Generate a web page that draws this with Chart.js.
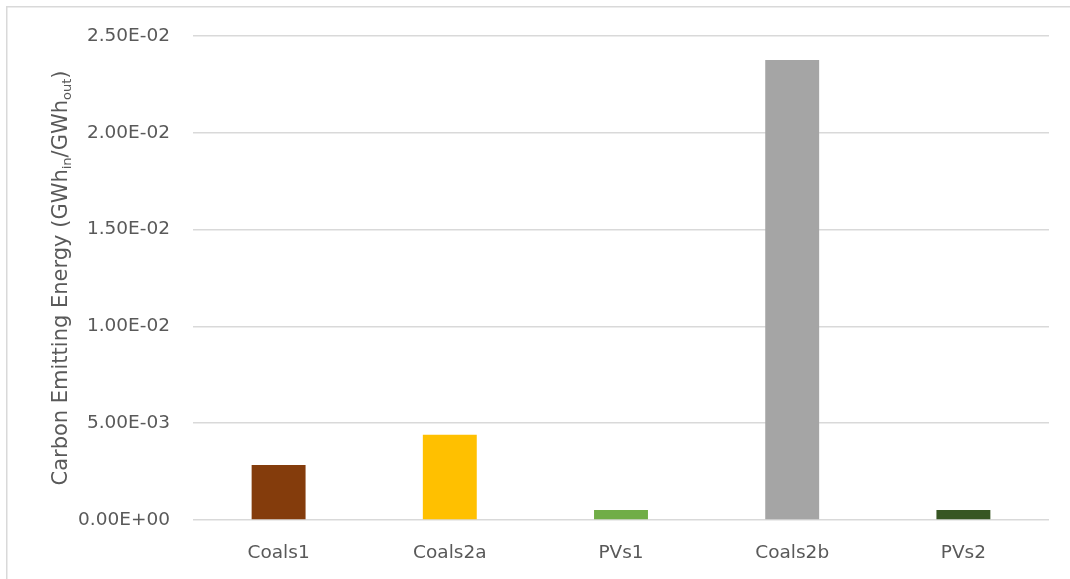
<!DOCTYPE html>
<html>
<head>
<meta charset="utf-8">
<title>Carbon Emitting Energy</title>
<script src="https://cdn.jsdelivr.net/npm/chart.js@4/dist/chart.umd.min.js"></script>
<style>
    html, body { margin: 0; padding: 0; background: #fff; }
    #wrap { position: relative; width: 1070px; height: 579px; }
</style>
</head>
<body>
<div id="wrap"><canvas id="myChart" width="1070" height="579"></canvas></div>
<script>
    const categories = ["Coals1", "Coals2a", "PVs1", "Coals2b", "PVs2"];
    const values = [0.00284, 0.00440, 0.00052, 0.02376, 0.00052];
    const barColors = ["#843C0C", "#FFC000", "#70AD47", "#A5A5A5", "#375623"];
    const yTicks = [0, 0.005, 0.01, 0.015, 0.02, 0.025];

    const textColor = "#595959";
    const gridColor = "#d9d9d9";
    const fontFamily = "'DejaVu Sans', sans-serif";
    const fontSize = 18.5;
    const titleSize = 21;

    // 2.50E-02 style labels like a spreadsheet
    function sci(v) {
        if (v === 0) return "0.00E+00";
        let exp = Math.floor(Math.log10(Math.abs(v)) + 1e-9);
        let mant = v / Math.pow(10, exp);
        let sign = exp < 0 ? "-" : "+";
        let e = String(Math.abs(exp)).padStart(2, "0");
        return mant.toFixed(2) + "E" + sign + e;
    }

    // outer frame of the chart box (right and bottom edges fall outside)
    const framePlugin = {
        id: "frame",
        beforeDraw(chart) {
            let ctx = chart.ctx;
            ctx.save();
            ctx.strokeStyle = gridColor;
            ctx.lineWidth = 1.5;
            ctx.beginPath();
            ctx.moveTo(6.75, 579);
            ctx.lineTo(6.75, 6.75);
            ctx.lineTo(1070, 6.75);
            ctx.stroke();
            ctx.restore();
        }
    };

    // rotated axis title with subscripts
    const yTitlePlugin = {
        id: "yTitle",
        afterDraw(chart) {
            let ctx = chart.ctx;
            let area = chart.chartArea;
            let parts = [
                { t: "Carbon Emitting Energy (GWh", sub: false },
                { t: "in", sub: true },
                { t: "/GWh", sub: false },
                { t: "out", sub: true },
                { t: ")", sub: false }
            ];
            let big = titleSize + "px " + fontFamily;
            let small = (titleSize * 0.62) + "px " + fontFamily;
            ctx.save();
            let total = 0;
            parts.forEach(p => {
                ctx.font = p.sub ? small : big;
                p.w = ctx.measureText(p.t).width;
                total += p.w;
            });
            ctx.translate(67, (area.top + area.bottom) / 2);
            ctx.rotate(-Math.PI / 2);
            ctx.fillStyle = textColor;
            ctx.textBaseline = "alphabetic";
            ctx.textAlign = "left";
            let x = -total / 2;
            parts.forEach(p => {
                ctx.font = p.sub ? small : big;
                ctx.fillText(p.t, x, p.sub ? 4 : 0);
                x += p.w;
            });
            ctx.restore();
        }
    };

    let ctx = document.getElementById("myChart");
    let myBarChart = new Chart(ctx.getContext("2d"), {
        type: "bar",
        data: {
            labels: categories,
            datasets: [{
                data: values,
                backgroundColor: barColors,
                borderWidth: 0,
                categoryPercentage: 1,
                barPercentage: 0.315
            }]
        },
        options: {
            responsive: false,
            animation: false,
            layout: { padding: { top: 36, right: 21, bottom: 0, left: 0 } },
            plugins: {
                legend: { display: false },
                tooltip: { enabled: false }
            },
            scales: {
                x: {
                    grid: { display: false, drawTicks: false },
                    border: { display: false },
                    ticks: {
                        color: textColor,
                        padding: 22,
                        font: { family: fontFamily, size: fontSize }
                    },
                    afterFit(scale) { scale.height = 59; }
                },
                y: {
                    min: 0,
                    max: 0.025,
                    grid: { color: gridColor, lineWidth: 1.5, drawTicks: false },
                    border: { display: false },
                    afterBuildTicks(scale) {
                        scale.ticks = yTicks.map(v => ({ value: v }));
                    },
                    ticks: {
                        color: textColor,
                        padding: 23,
                        font: { family: fontFamily, size: fontSize },
                        callback: v => sci(v)
                    },
                    afterFit(scale) { scale.width = 193; }
                }
            }
        },
        plugins: [framePlugin, yTitlePlugin]
    });
</script>
</body>
</html>
